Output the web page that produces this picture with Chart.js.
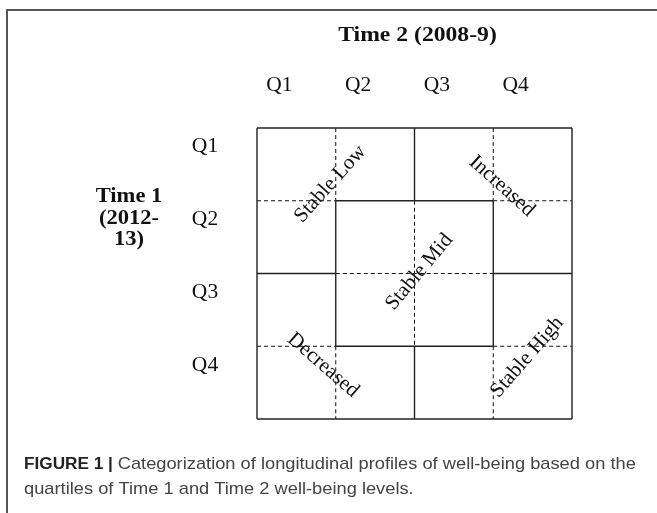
<!DOCTYPE html>
<html>
<head>
<meta charset="utf-8">
<script src="https://cdn.jsdelivr.net/npm/chart.js@4.4.1/dist/chart.umd.min.js"></script>
<style>
  html, body { margin: 0; padding: 0; background: #fff; }
  #wrap { width: 657px; height: 513px; }
</style>
</head>
<body>
<div id="wrap"><canvas id="grid" width="657" height="513"></canvas></div>
<script>
// quartile labels on both sides of the grid
const quartiles = ['Q1', 'Q2', 'Q3', 'Q4']
const colTitle = 'Time 2 (2008-9)'
const rowTitle = ['Time 1', '(2012-', '13)']

// the five profile groups, and where they sit (in quartile units, angle)
const profiles = ['Stable Low', 'Increased', 'Stable Mid', 'Decreased', 'Stable High']
const profileAt = [[0.93, 0.77, -48], [3.11, 0.80, 42], [2.06, 1.98, -50], [0.84, 3.26, 41], [3.43, 3.15, -49]]

// grid segments [x1, y1, x2, y2] in quartile units
const solidLines = [
  [0, 0, 4, 0], [4, 0, 4, 4], [4, 4, 0, 4], [0, 4, 0, 0],
  [1, 1, 3, 1], [3, 1, 3, 3], [3, 3, 1, 3], [1, 3, 1, 1],
  [2, 0, 2, 1], [2, 3, 2, 4], [0, 2, 1, 2], [3, 2, 4, 2]
]
const dashedLines = [
  [1, 0, 1, 1], [1, 3, 1, 4], [3, 0, 3, 1], [3, 3, 3, 4],
  [0, 1, 1, 1], [3, 1, 4, 1], [0, 3, 1, 3], [3, 3, 4, 3],
  [2, 1, 2, 3], [1, 2, 3, 2]
]

const captionBold = 'FIGURE 1 | '
const captionLines = [
  'Categorization of longitudinal profiles of well-being based on the',
  'quartiles of Time 1 and Time 2 well-being levels.'
]

const segDataset = function (seg, dashed) {
  return {
    data: [{ x: seg[0], y: seg[1] }, { x: seg[2], y: seg[3] }],
    showLine: true,
    borderColor: dashed ? '#111' : '#222',
    borderWidth: dashed ? 1 : 1.4,
    borderDash: dashed ? [4, 3] : [],
    pointRadius: 0,
    pointHoverRadius: 0,
    fill: false,
    clip: false
  }
}

const serif = '"Liberation Serif", "Times New Roman", serif'
const sans = '"Liberation Sans", Arial, sans-serif'
const stretch = 1.075 // the figure is a bit wider than tall

// text drawn a little wider, like the source picture
const wideText = function (c, text, x, y) {
  c.save()
  c.translate(x, y)
  c.scale(stretch, 1)
  c.fillText(text, 0, 0)
  c.restore()
}

const textPlugin = {
  id: 'textPlugin',
  beforeDraw(chart) {
    const c = chart.ctx
    c.save()
    c.fillStyle = '#fff'
    c.fillRect(0, 0, chart.width, chart.height)
    // frame (top and left only)
    c.strokeStyle = '#555'
    c.lineWidth = 2
    c.beginPath()
    c.moveTo(7, chart.height)
    c.lineTo(7, 10)
    c.lineTo(chart.width, 10)
    c.stroke()
    c.restore()
  },
  afterDraw(chart) {
    const c = chart.ctx
    const xs = chart.scales.x
    const ys = chart.scales.y
    c.save()
    c.fillStyle = '#111'
    c.textAlign = 'center'
    c.textBaseline = 'alphabetic'

    // column header
    c.font = 'bold 22px ' + serif
    wideText(c, colTitle, (xs.left + xs.right) / 2 + 3, 41)

    c.font = '20px ' + serif
    quartiles.forEach(function (q, i) {
      wideText(c, q, xs.getPixelForValue(i + 0.5) - 17, 91)
    })
    quartiles.forEach(function (q, i) {
      wideText(c, q, 205, ys.getPixelForValue(i + 0.5) - 12)
    })

    // row header
    c.font = 'bold 21px ' + serif
    rowTitle.forEach(function (t, i) {
      wideText(c, t, 129, 202 + i * 21.5)
    })

    // profile labels
    c.font = '21px ' + serif
    c.textBaseline = 'middle'
    profiles.forEach(function (p, i) {
      const a = profileAt[i]
      c.save()
      c.translate(xs.getPixelForValue(a[0]), ys.getPixelForValue(a[1]))
      c.rotate(a[2] * Math.PI / 180)
      c.fillText(p, 0, 0)
      c.restore()
    })

    // caption
    c.textAlign = 'left'
    c.textBaseline = 'alphabetic'
    c.font = 'bold 16px ' + sans
    c.fillStyle = '#222'
    wideText(c, captionBold, 24, 469)
    const w = c.measureText(captionBold).width * stretch
    c.font = '17px ' + sans
    c.fillStyle = '#444'
    wideText(c, captionLines[0], 24 + w, 469)
    wideText(c, captionLines[1], 24, 494)
    c.restore()
  }
}

const ctx = document.getElementById('grid').getContext('2d')

const gridChart = new Chart(ctx, {
  type: 'scatter',
  data: {
    datasets: solidLines.map(s => segDataset(s, false))
      .concat(dashedLines.map(s => segDataset(s, true)))
  },
  options: {
    responsive: false,
    animation: false,
    layout: { padding: { left: 257, right: 85, top: 128, bottom: 94 } },
    scales: {
      x: { type: 'linear', min: 0, max: 4, display: false },
      y: { type: 'linear', min: 0, max: 4, reverse: true, display: false }
    },
    plugins: {
      legend: { display: false },
      tooltip: { enabled: false }
    }
  },
  plugins: [textPlugin]
});
</script>
</body>
</html>
